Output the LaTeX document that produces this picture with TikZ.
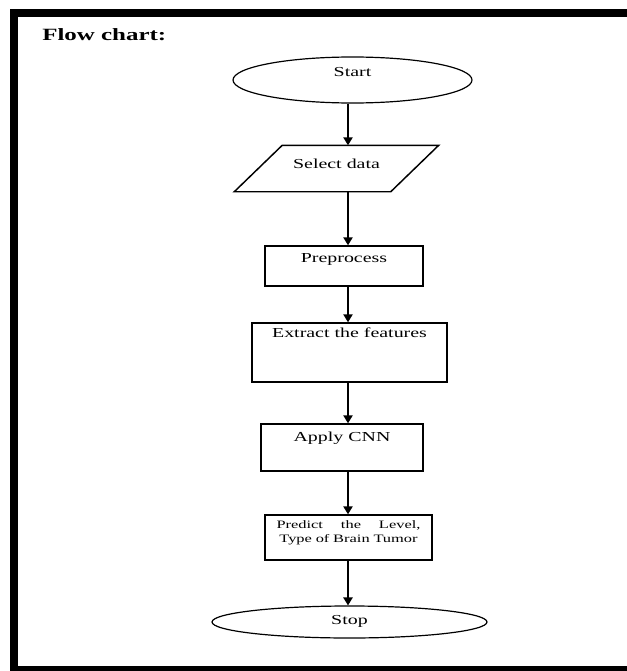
\documentclass[tikz,border=0pt]{standalone}
\usepackage{fontspec}
\setmainfont{Liberation Serif}[FakeStretch=1.45]
\usetikzlibrary{shapes.geometric,arrows.meta}

\begin{document}
\begin{tikzpicture}[x=0.75pt, y=-0.75pt,
	txt/.style={font=\fontsize{10.3pt}{12.4pt}\selectfont},
	oval/.style={shape=ellipse, draw=black, line width=0.9pt, inner sep=0, txt},
	box/.style={shape=rectangle, draw=black, line width=1.1pt, inner sep=0, anchor=base, txt},
	flow/.style={-{Triangle[length=6pt,width=7pt]}, line width=1.1pt}]
	
	\useasboundingbox (0,0) rectangle (627,671);
	\clip (0,0) rectangle (627,671);
	
	\draw[line width=6pt] (627,13) -- (14,13) -- (14,670) -- (627,670);
	
	\node[anchor=base west, inner sep=0, font=\fontsize{12.9pt}{15pt}\selectfont\bfseries] (title) at (42,40) {Flow chart:};
	
	\coordinate (axis) at (348,0);
	
	\node[oval, minimum width=179.25pt, minimum height=34.5pt, text height=4.5pt, text depth=10.5pt] (start) at (352.5,80) {Start};
	\node[box, draw=none, minimum width=116.25pt, text height=16.5pt, text depth=17.25pt] (sel) at (336.5,168) {Select data};
	\node[box, minimum width=118.5pt, text height=12pt, text depth=18pt] (prep) at (344,262) {Preprocess};
	\node[box, minimum width=146.25pt, text height=10.5pt, text depth=33.75pt] (feat) at (349.5,337) {Extract the features};
	\node[box, minimum width=121.5pt, text height=12.75pt, text depth=22.5pt] (cnn) at (342,441) {Apply CNN};
	\node[box, text width=108pt, align=center, inner xsep=8.6pt, text height=9.75pt, text depth=24pt, font=\fontsize{8.5pt}{10.5pt}\selectfont] (pred) at (348.5,528) {Predict\hfill the\hfill Level,\\Type of Brain Tumor};
	\node[oval, minimum width=206.25pt, minimum height=24pt, text height=9pt, text depth=6pt] (stop) at (349.5,622) {Stop};
	
	\draw[line width=1.1pt] ([xshift=18pt]sel.north west) -- ([xshift=18pt]sel.north east) -- ([xshift=-18pt]sel.south east) -- ([xshift=-18pt]sel.south west) -- cycle;
	
	\path[flow] (start.south -| axis) edge (sel.north -| axis);
	\path[flow] (sel.south -| axis) edge (prep.north -| axis);
	\path[flow] (prep.south -| axis) edge (feat.north -| axis);
	\path[flow] (feat.south -| axis) edge (cnn.north -| axis);
	\path[flow] (cnn.south -| axis) edge (pred.north -| axis);
	\path[flow] (pred.south -| axis) edge (stop.north -| axis);
	
\end{tikzpicture}
\end{document}
